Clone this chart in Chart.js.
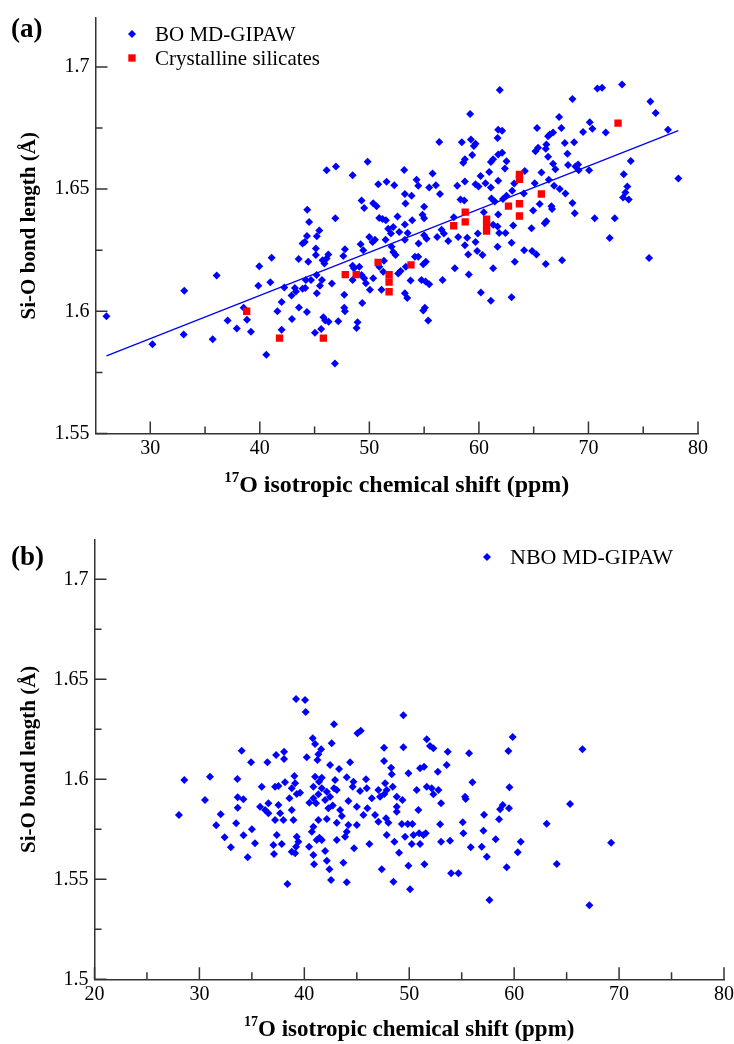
<!DOCTYPE html>
<html>
<head>
<meta charset="utf-8">
<script src="https://cdn.jsdelivr.net/npm/chart.js@4.4.1/dist/chart.umd.min.js"></script>
<style>
  html, body { margin: 0; padding: 0; background: #fff; overflow: hidden; }
  #wrap { position: relative; width: 734px; height: 1044px; overflow: hidden; }
  .panel { position: absolute; left: 0; width: 760px; }
  #pa { top: 0; height: 520px; }
  #pb { top: 520px; height: 524px; }
</style>
</head>
<body>
<div id="wrap">
  <div class="panel" id="pa"><canvas id="chartA"></canvas></div>
  <div class="panel" id="pb"><canvas id="chartB"></canvas></div>
</div>
<script>
// ===== data =====
// (a) bridging oxygens, MD-GIPAW
const boX = [26.0,30.2,33.1,33.05,36.06,35.7,37.06,37.9,38.52,38.83,39.19,39.86,39.95,41.08,40.96,40.59,41.6,41.99,41.99,42.23,
  42.93,42.9,43.2,43.3,43.54,43.57,43.9,44.1,43.9,44.15,44.3,44.3,44.33,44.5,44.42,44.2,44.67,45.12,45.12,45.2,
  45.43,45.2,45.18,45.49,45.67,45.73,45.9,46.1,46.25,45.8,45.97,46.28,45.6,45.03,46.1,46.58,46.86,46.89,46.95,
  61.91,59.2,61.76,62.12,61.7,56.38,58.44,59.27,59.69,59.54,59.39,58.72,58.57,61.76,62.12,61.3,61.09,62.52,49.84,48.47,
  53.18,55.77,54.31,54.46,55.46,56.07,50.81,51.57,52.27,53.24,53.85,56.44,58.02,58.72,59.69,59.96,60.6,61.09,61.76,60.94,
  60.15,62.37,63.04,63.22,62.52,62.2,61.15,61.45,64.19,64.1,49.29,49.53,50.35,50.66,50.9,51.2,51.51,53.3,55.0,54.85,
  55.0,53.91,52.57,53.24,52.18,51.72,52.73,51.97,51.48,50.51,49.99,50.29,49.2,49.44,52.03,53.24,53.49,54.49,55.0,55.22,
  56.19,56.59,56.8,57.2,57.71,58.32,58.66,58.11,58.93,58.72,59.02,59.69,59.84,60.33,59.9,60.45,61.3,61.76,61.7,61.85,
  62.43,63.13,62.98,61.7,64.13,63.28,61.3,57.8,59.08,60.18,61.09,62.98,56.68,55.16,54.92,54.46,54.16,54.76,55.13,55.46,
  53.76,53.33,52.85,52.63,52.39,52.18,51.33,50.9,51.27,51.11,53.24,53.46,55.07,54.92,55.37,50.35,50.05,49.68,49.53,49.29,
  49.08,48.47,48.59,47.62,47.77,47.71,47.71,47.77,47.16,48.92,48.83,49.35,48.47,
  73.07,70.82,71.24,68.54,75.65,76.14,67.32,65.31,67.53,70.12,70.36,69.51,71.58,77.26,66.77,66.47,66.31,66.16,66.1,65.4,
  65.16,67.84,68.69,68.08,66.31,66.77,66.98,68.14,68.81,69.05,69.11,70.06,73.86,73.22,78.21,65.71,65.1,66.38,66.86,67.38,
  67.9,73.55,73.37,73.16,73.68,65.55,64.95,66.62,66.68,68.54,68.75,70.57,72.4,66.16,66.01,64.8,71.94,64.86,65.25,66.1,
  67.59,75.53];
const boY = [1.598,1.5865,1.6084,1.5905,1.6146,1.5886,1.5962,1.593,1.6014,1.5965,1.5916,1.6105,1.6184,1.6219,1.6119,1.5822,1.6,1.6038,1.5924,1.6097,
  1.5968,1.6065,1.6095,1.6081,1.6214,1.6016,1.6277,1.6284,1.6092,1.6095,1.5997,1.6308,1.6415,1.6365,1.6203,1.6128,1.6128,1.6257,1.623,1.6307,
  1.6331,1.6074,1.6149,1.6105,1.6128,1.6209,1.6196,1.6216,1.6232,1.5976,1.5962,1.5957,1.5928,1.5912,1.6577,1.6114,1.5786,1.6381,1.6592,
  1.6905,1.6807,1.6743,1.6739,1.6709,1.6693,1.6692,1.6703,1.6686,1.6676,1.6639,1.6622,1.6608,1.6642,1.6649,1.6622,1.6611,1.6614,1.6612,1.6557,
  1.6578,1.6564,1.6538,1.6514,1.6507,1.6516,1.652,1.653,1.6516,1.648,1.6473,1.648,1.6514,1.6531,1.652,1.6511,1.6524,1.6507,1.6534,1.657,
  1.6554,1.6584,1.6493,1.6523,1.6473,1.6459,1.6462,1.6449,1.6574,1.6482,1.6453,1.6423,1.6442,1.643,1.6382,1.6378,1.6372,1.6441,1.6428,1.6395,
  1.6381,1.6372,1.6388,1.6355,1.6345,1.6338,1.6324,1.6318,1.6293,1.6293,1.6304,1.6284,1.6274,1.625,1.6264,1.6293,1.632,1.6277,1.6311,1.6297,
  1.6304,1.6334,1.6318,1.6288,1.6385,1.6457,1.6453,1.6304,1.6301,1.627,1.6232,1.6284,1.6247,1.623,1.6318,1.6405,1.6354,1.6396,1.6347,1.632,
  1.632,1.6351,1.628,1.6264,1.625,1.6203,1.6176,1.6176,1.6151,1.6077,1.6043,1.6057,1.6128,1.6203,1.6192,1.6223,1.6223,1.6128,1.6122,1.6111,
  1.6126,1.6182,1.6165,1.6155,1.623,1.6243,1.6207,1.6182,1.6162,1.6088,1.6074,1.6054,1.6014,1.6003,1.5962,1.6135,1.6088,1.6115,1.6135,1.6149,
  1.6182,1.6186,1.6176,1.6226,1.6254,1.6068,1.6014,1.6,1.5959,1.5955,1.5932,1.6034,1.6128,
  1.6928,1.6912,1.6915,1.6869,1.6858,1.6811,1.6795,1.675,1.675,1.6773,1.6747,1.6734,1.6732,1.6743,1.6732,1.6723,1.6716,1.6682,1.6665,1.6669,
  1.6655,1.6689,1.6692,1.6645,1.6632,1.6604,1.6581,1.6599,1.6592,1.6601,1.6577,1.6577,1.6615,1.6561,1.6543,1.6568,1.6524,1.6538,1.6514,1.65,
  1.6482,1.6511,1.6486,1.6466,1.6457,1.6439,1.6412,1.643,1.6419,1.6443,1.6401,1.6381,1.6381,1.6368,1.636,1.634,1.63,1.6247,1.6232,1.6193,
  1.6209,1.6218];

// (a) crystalline silicates
const crysX = [38.8,41.8,45.8,47.8,48.8,50.8,51.8,51.8,51.8,53.8,57.7,58.75,58.75,60.7,60.7,60.7,62.7,63.7,63.7,63.7,63.7,65.7,72.7];
const crysY = [1.600,1.589,1.589,1.615,1.615,1.620,1.615,1.612,1.608,1.619,1.635,1.6406,1.6366,1.6377,1.6353,1.6328,1.643,1.656,1.654,1.644,1.639,1.648,1.677];

// (a) linear fit end points
const fitX = [26.0, 78.2];
const fitY = [1.5818, 1.6739];

// (b) non-bridging oxygens, MD-GIPAW
const nboX = [28.56,31.01,34.03,34.92,33.62,33.65,34.19,30.53,33.65,28.05,32.03,
  31.6,32.4,33.0,33.5,34.2,34.6,35.0,35.3,
  39.21,40.07,40.13,49.44,42.83,45.06,45.38,40.8,41.02,42.61,41.6,41.34,41.25,40.23,38.07,37.31,38.07,36.48,47.6,
  49.44,51.67,51.98,52.3,53.67,55.7,42.45,43.31,44.36,47.6,48.27,48.33,49.92,51.03,51.41,52.72,53.57,39.05,38.16,39.12,
  41.02,41.66,41.4,42.93,44.04,44.68,45.88,47.7,48.43,35.94,37.21,37.53,38.8,39.28,39.59,40.86,41.66,42.14,42.83,43.09,
  44.61,45.31,45.95,46.43,47.06,47.22,47.63,47.85,48.81,49.35,50.71,51.67,52.14,52.3,52.78,53.03,55.32,55.38,56.02,35.78,
  36.57,37.53,37.69,36.57,36.26,37.21,38.0,38.8,38.96,38.58,40.48,40.86,41.12,41.34,41.98,42.45,42.29,42.71,43.41,43.57,
  44.2,45.0,45.63,46.01,46.74,47.06,47.79,48.01,48.81,48.81,49.29,49.86,50.3,50.87,50.94,51.35,51.57,52.94,55.1,55.16,
  57.13,57.07,56.91,57.39,57.64,53.03,53.89,55.86,53.99,54.69,51.45,49.92,50.08,48.49,47.38,49.03,50.24,51.03,49.6,50.4,
  48.59,47.85,46.2,44.74,43.88,43.09,44.04,45.0,44.2,43.09,42.14,41.34,40.86,40.71,41.44,41.66,41.18,40.45,40.86,40.93,
  41.98,42.14,42.39,42.55,43.72,44.04,39.28,39.43,39.21,38.8,39.12,37.85,37.05,37.11,37.37,38.39,
  59.86,59.45,66.51,59.55,65.33,58.91,58.66,59.51,58.56,63.1,58.24,60.63,69.24,60.34,59.29,64.06,67.17];
const nboY = [1.5997,1.6013,1.6143,1.6085,1.6002,1.591,1.59,1.5897,1.5858,1.5822,1.5825,
  1.577,1.571,1.566,1.578,1.572,1.561,1.575,1.568,
  1.6401,1.6397,1.6337,1.632,1.6275,1.623,1.6243,1.6205,1.6177,1.618,1.615,1.6125,1.6097,1.611,1.6138,1.6122,1.6102,1.6085,1.6158,
  1.616,1.62,1.6167,1.6155,1.6138,1.613,1.6072,1.6052,1.6085,1.6092,1.6058,1.6025,1.603,1.6055,1.6063,1.6038,1.6072,1.6017,1.5985,1.598,
  1.6013,1.6008,1.5988,1.5997,1.601,1.5988,1.6,1.598,1.5963,1.5963,1.5963,1.5967,1.5955,1.5927,1.5933,1.5963,1.5955,1.5938,1.5955,1.5947,
  1.5963,1.5942,1.5955,1.5905,1.5947,1.5913,1.5927,1.5947,1.5913,1.5897,1.5947,1.5963,1.5955,1.5925,1.5947,1.588,1.5913,1.5902,1.5985,1.5863,
  1.588,1.5872,1.583,1.583,1.5847,1.5797,1.5797,1.5847,1.5797,1.5905,1.5883,1.5905,1.588,1.5925,1.5897,1.5913,1.5855,1.5869,1.5847,1.5817,
  1.5892,1.5863,1.5822,1.5855,1.5822,1.5788,1.5805,1.5783,1.5863,1.5838,1.5777,1.5777,1.5777,1.5847,1.573,1.5722,1.573,1.5775,1.5785,1.573,
  1.5823,1.5743,1.5663,1.5613,1.5397,1.5688,1.5693,1.566,1.553,1.553,1.5575,1.5568,1.545,1.5488,1.555,1.5633,1.5677,1.5677,1.5713,1.5722,
  1.5688,1.5722,1.5677,1.5655,1.5713,1.5697,1.5738,1.5772,1.5772,1.5783,1.5802,1.5797,1.5763,1.5738,1.5708,1.5697,1.5697,1.5663,1.5622,1.5575,
  1.5642,1.5593,1.555,1.5497,1.5583,1.5485,1.5713,1.5688,1.5663,1.5638,1.563,1.5677,1.5672,1.5627,1.5722,1.5477,
  1.6212,1.6142,1.615,1.596,1.5877,1.5872,1.585,1.5855,1.58,1.5778,1.57,1.5688,1.5683,1.5635,1.556,1.5577,1.537];

// axis ticks
const xMajorA = [30, 40, 50, 60, 70, 80];
const xMinorA = [35, 45, 55, 65, 75];
const yMajorA = [1.55, 1.6, 1.65, 1.7];
const yMinorA = [1.575, 1.625, 1.675];
const xMajorB = [20, 30, 40, 50, 60, 70, 80];
const xMinorB = [25, 35, 45, 55, 65, 75];
const yMajorB = [1.5, 1.55, 1.6, 1.65, 1.7];
const yMinorB = [1.525, 1.575, 1.625, 1.675];

const pts = (xs, ys) => xs.map((x, i) => ({ x: x, y: ys[i] }));
const SERIF = "'Liberation Serif', 'Times New Roman', serif";
const BLUE = '#0000ff';
const RED = '#ff0000';
const AXIS = '#333333';

// inward ticks, legend, panel letter, axis titles
const decor = {
  id: 'decor',
  afterDraw(chart, args, o) {
    const { ctx, chartArea: a, scales: { x, y } } = chart;
    ctx.save();
    ctx.strokeStyle = AXIS;
    ctx.lineWidth = 1.5;
    ctx.beginPath();
    o.xMajor.forEach(v => { const p = x.getPixelForValue(v); ctx.moveTo(p, a.bottom); ctx.lineTo(p, a.bottom - 12); });
    o.xMinor.forEach(v => { const p = x.getPixelForValue(v); ctx.moveTo(p, a.bottom); ctx.lineTo(p, a.bottom - 7); });
    o.yMajor.forEach(v => { const p = y.getPixelForValue(v); ctx.moveTo(a.left, p); ctx.lineTo(a.left + 12, p); });
    o.yMinor.forEach(v => { const p = y.getPixelForValue(v); ctx.moveTo(a.left, p); ctx.lineTo(a.left + 7, p); });
    ctx.stroke();

    // legend
    ctx.fillStyle = '#000';
    ctx.textBaseline = 'middle';
    ctx.textAlign = 'left';
    ctx.font = o.legendSize + 'px ' + SERIF;
    o.legend.forEach(e => {
      const ds = chart.data.datasets[e.ds];
      ctx.fillStyle = ds.backgroundColor;
      ctx.strokeStyle = ds.borderColor;
      Chart.helpers.drawPoint(ctx, { pointStyle: ds.pointStyle, radius: ds.pointRadius, rotation: 0, borderWidth: 0 }, e.x, e.y);
      ctx.fillStyle = '#000';
      ctx.fillText(ds.label, e.x + 23, e.y + 1);
    });

    // panel letter
    ctx.font = 'bold 27px ' + SERIF;
    ctx.textBaseline = 'alphabetic';
    ctx.fillText(o.letter, o.letterX, o.letterY);

    // x title with superscript
    const main = 'O isotropic chemical shift (ppm)';
    const supFont = 'bold ' + Math.round(o.titleSize * 0.63) + 'px ' + SERIF;
    const mainFont = 'bold ' + o.titleSize + 'px ' + SERIF;
    ctx.font = supFont;
    const wSup = ctx.measureText('17').width;
    ctx.font = mainFont;
    const wMain = ctx.measureText(main).width;
    const x0 = (a.left + a.right) / 2 - (wSup + wMain) / 2;
    ctx.fillText(main, x0 + wSup, o.titleY);
    ctx.font = supFont;
    ctx.fillText('17', x0, o.titleY - 10);

    // y title
    ctx.save();
    ctx.translate(o.yTitleX, (a.top + a.bottom) / 2);
    ctx.rotate(-Math.PI / 2);
    ctx.textAlign = 'center';
    ctx.textBaseline = 'middle';
    ctx.font = 'bold 21px ' + SERIF;
    ctx.fillText('Si-O bond length (\u00c5)', 0, 0);
    ctx.restore();
    ctx.restore();
  }
};

function axes(xMin, xMax, xTicks, yMin, yMax, yTicks, yWidth, xHeight) {
  const tickFont = { family: SERIF, size: 20 };
  return {
    x: {
      type: 'linear', min: xMin, max: xMax,
      afterBuildTicks: s => { s.ticks = xTicks.map(v => ({ value: v })); },
      afterFit: s => { s.height = xHeight; },
      grid: { display: false, drawTicks: false },
      border: { display: true, color: AXIS, width: 1.5 },
      ticks: { font: tickFont, color: '#000', padding: 3, maxRotation: 0, callback: v => String(v) }
    },
    y: {
      type: 'linear', min: yMin, max: yMax,
      afterBuildTicks: s => { s.ticks = yTicks.map(v => ({ value: v })); },
      afterFit: s => { s.width = yWidth; },
      grid: { display: false, drawTicks: false },
      border: { display: true, color: AXIS, width: 1.5 },
      ticks: { font: tickFont, color: '#000', padding: 6, callback: v => String(v) }
    }
  };
}

Chart.defaults.animation = false;

new Chart(document.getElementById('chartA'), {
  type: 'scatter',
  data: {
    datasets: [
      { label: 'Crystalline silicates', data: pts(crysX, crysY), pointStyle: 'rect', pointRadius: 5.2,
        backgroundColor: RED, borderColor: RED, borderWidth: 0 },
      { label: 'BO MD-GIPAW', data: pts(boX, boY), pointStyle: 'rectRot', pointRadius: 4,
        backgroundColor: BLUE, borderColor: BLUE, borderWidth: 0 },
      { label: 'fit', data: pts(fitX, fitY), showLine: true, pointRadius: 0,
        borderColor: BLUE, borderWidth: 1.3, backgroundColor: BLUE }
    ]
  },
  options: {
    responsive: true,
    maintainAspectRatio: false,
    layout: { padding: { left: 0, right: 62, top: 14, bottom: 0 } },
    scales: axes(25, 80, xMajorA, 1.55, 1.72, yMajorA, 95.5, 86.5),
    plugins: {
      legend: { display: false },
      tooltip: { enabled: false },
      decor: {
        xMajor: xMajorA, xMinor: xMinorA, yMajor: yMajorA, yMinor: yMinorA,
        legend: [{ ds: 1, x: 132, y: 34 }, { ds: 0, x: 132, y: 58 }], legendSize: 21,
        letter: '(a)', letterX: 11, letterY: 37,
        titleY: 492, titleSize: 24, yTitleX: 30
      }
    }
  },
  plugins: [decor]
});

new Chart(document.getElementById('chartB'), {
  type: 'scatter',
  data: {
    datasets: [
      { label: 'NBO MD-GIPAW', data: pts(nboX, nboY), pointStyle: 'rectRot', pointRadius: 4,
        backgroundColor: BLUE, borderColor: BLUE, borderWidth: 0 }
    ]
  },
  options: {
    responsive: true,
    maintainAspectRatio: false,
    layout: { padding: { left: 0, right: 36, top: 19.3, bottom: 0 } },
    scales: axes(20, 80, xMajorB, 1.5, 1.72, yMajorB, 94.5, 64.7),
    plugins: {
      legend: { display: false },
      tooltip: { enabled: false },
      decor: {
        xMajor: xMajorB, xMinor: xMinorB, yMajor: yMajorB, yMinor: yMinorB,
        legend: [{ ds: 0, x: 487, y: 37 }], legendSize: 22,
        letter: '(b)', letterX: 11, letterY: 45,
        titleY: 516, titleSize: 23, yTitleX: 30
      }
    }
  },
  plugins: [decor]
});
</script>
</body>
</html>
